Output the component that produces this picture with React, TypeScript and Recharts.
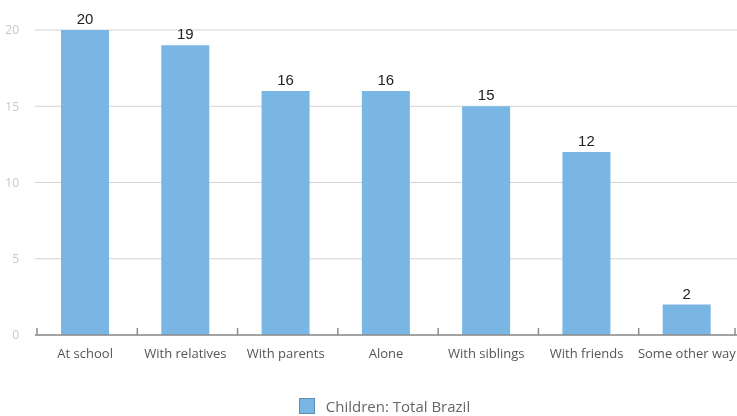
import React from 'react';
import {
    BarChart,
    Bar,
    XAxis,
    YAxis,
    CartesianGrid,
    Legend,
    LabelList,
} from 'recharts';

const categories = [
    'At school',
    'With relatives',
    'With parents',
    'Alone',
    'With siblings',
    'With friends',
    'Some other way',
];
const childrenTotalBrazil = [20, 19, 16, 16, 15, 12, 2];
const yTicks = [0, 5, 10, 15, 20];

const SERIES_NAME = 'Children: Total Brazil';
const BAR_COLOR = '#79b6e3';
const FONT = '"Open Sans", "DejaVu Sans", sans-serif';

const WIDTH = 737;
const HEIGHT = 416;
const Y_AXIS_WIDTH = 35;
const RIGHT_MARGIN = 0;
const BAND = (WIDTH - Y_AXIS_WIDTH - RIGHT_MARGIN) / categories.length;

const data = categories.map((name, i) => ({
    name,
    value: childrenTotalBrazil[i],
}));

// category label plus the boundary tick marks (pointing up from the axis)
const CategoryTick = (props: any) => {
    const { x, y, payload, index } = props;
    const axisY = y - 8;
    return (
        <g>
            <line
                x1={x - BAND / 2 + 2}
                x2={x - BAND / 2 + 2}
                y1={axisY}
                y2={axisY - 7}
                stroke="#8c8c8c"
                strokeWidth={1.5}
            />
            {index === categories.length - 1 && (
                <line
                    x1={x + BAND / 2 - 2}
                    x2={x + BAND / 2 - 2}
                    y1={axisY}
                    y2={axisY - 7}
                    stroke="#8c8c8c"
                    strokeWidth={1.5}
                />
            )}
            <text
                x={x}
                y={axisY + 23}
                textAnchor="middle"
                fill="#555"
                fontSize={13}
                fontFamily={FONT}
            >
                {payload.value}
            </text>
        </g>
    );
};

const LegendContent = () => (
    <div
        style={{
            display: 'flex',
            justifyContent: 'center',
            alignItems: 'center',
            paddingLeft: 32,
            fontFamily: FONT,
            fontSize: 15,
            lineHeight: '18px',
            color: '#666',
        }}
    >
        <span
            style={{
                width: 14,
                height: 14,
                background: BAR_COLOR,
                border: '1px solid #5a8fb8',
                marginRight: 11,
                display: 'inline-block',
            }}
        />
        {SERIES_NAME}
    </div>
);

export default function App() {
    return (
        <div style={{ position: 'fixed', left: 0, top: 0 }}>
            <BarChart
                width={WIDTH}
                height={HEIGHT}
                data={data}
                margin={{ top: 30, right: RIGHT_MARGIN, left: 0, bottom: 33 }}
                barSize={48}
            >
                <CartesianGrid
                    vertical={false}
                    stroke="#d3d3d3"
                    strokeWidth={1}
                />
                <YAxis
                    width={Y_AXIS_WIDTH}
                    domain={[0, 20]}
                    ticks={yTicks}
                    axisLine={false}
                    tickLine={false}
                    tickMargin={10}
                    tick={{ fill: '#c8c8c8', fontSize: 12, fontFamily: FONT }}
                />
                <XAxis
                    dataKey="name"
                    height={30}
                    axisLine={{ stroke: '#8c8c8c', strokeWidth: 1.5 }}
                    tickLine={false}
                    interval={0}
                    tick={<CategoryTick />}
                />
                <Legend
                    verticalAlign="bottom"
                    content={<LegendContent />}
                    wrapperStyle={{ top: 397, bottom: 'auto' }}
                />
                <Bar
                    dataKey="value"
                    name={SERIES_NAME}
                    fill={BAR_COLOR}
                    isAnimationActive={false}
                >
                    <LabelList
                        dataKey="value"
                        position="top"
                        offset={6}
                        fill="#222"
                        fontSize={15}
                        fontFamily='"Liberation Sans", sans-serif'
                    />
                </Bar>
            </BarChart>
        </div>
    );
}
